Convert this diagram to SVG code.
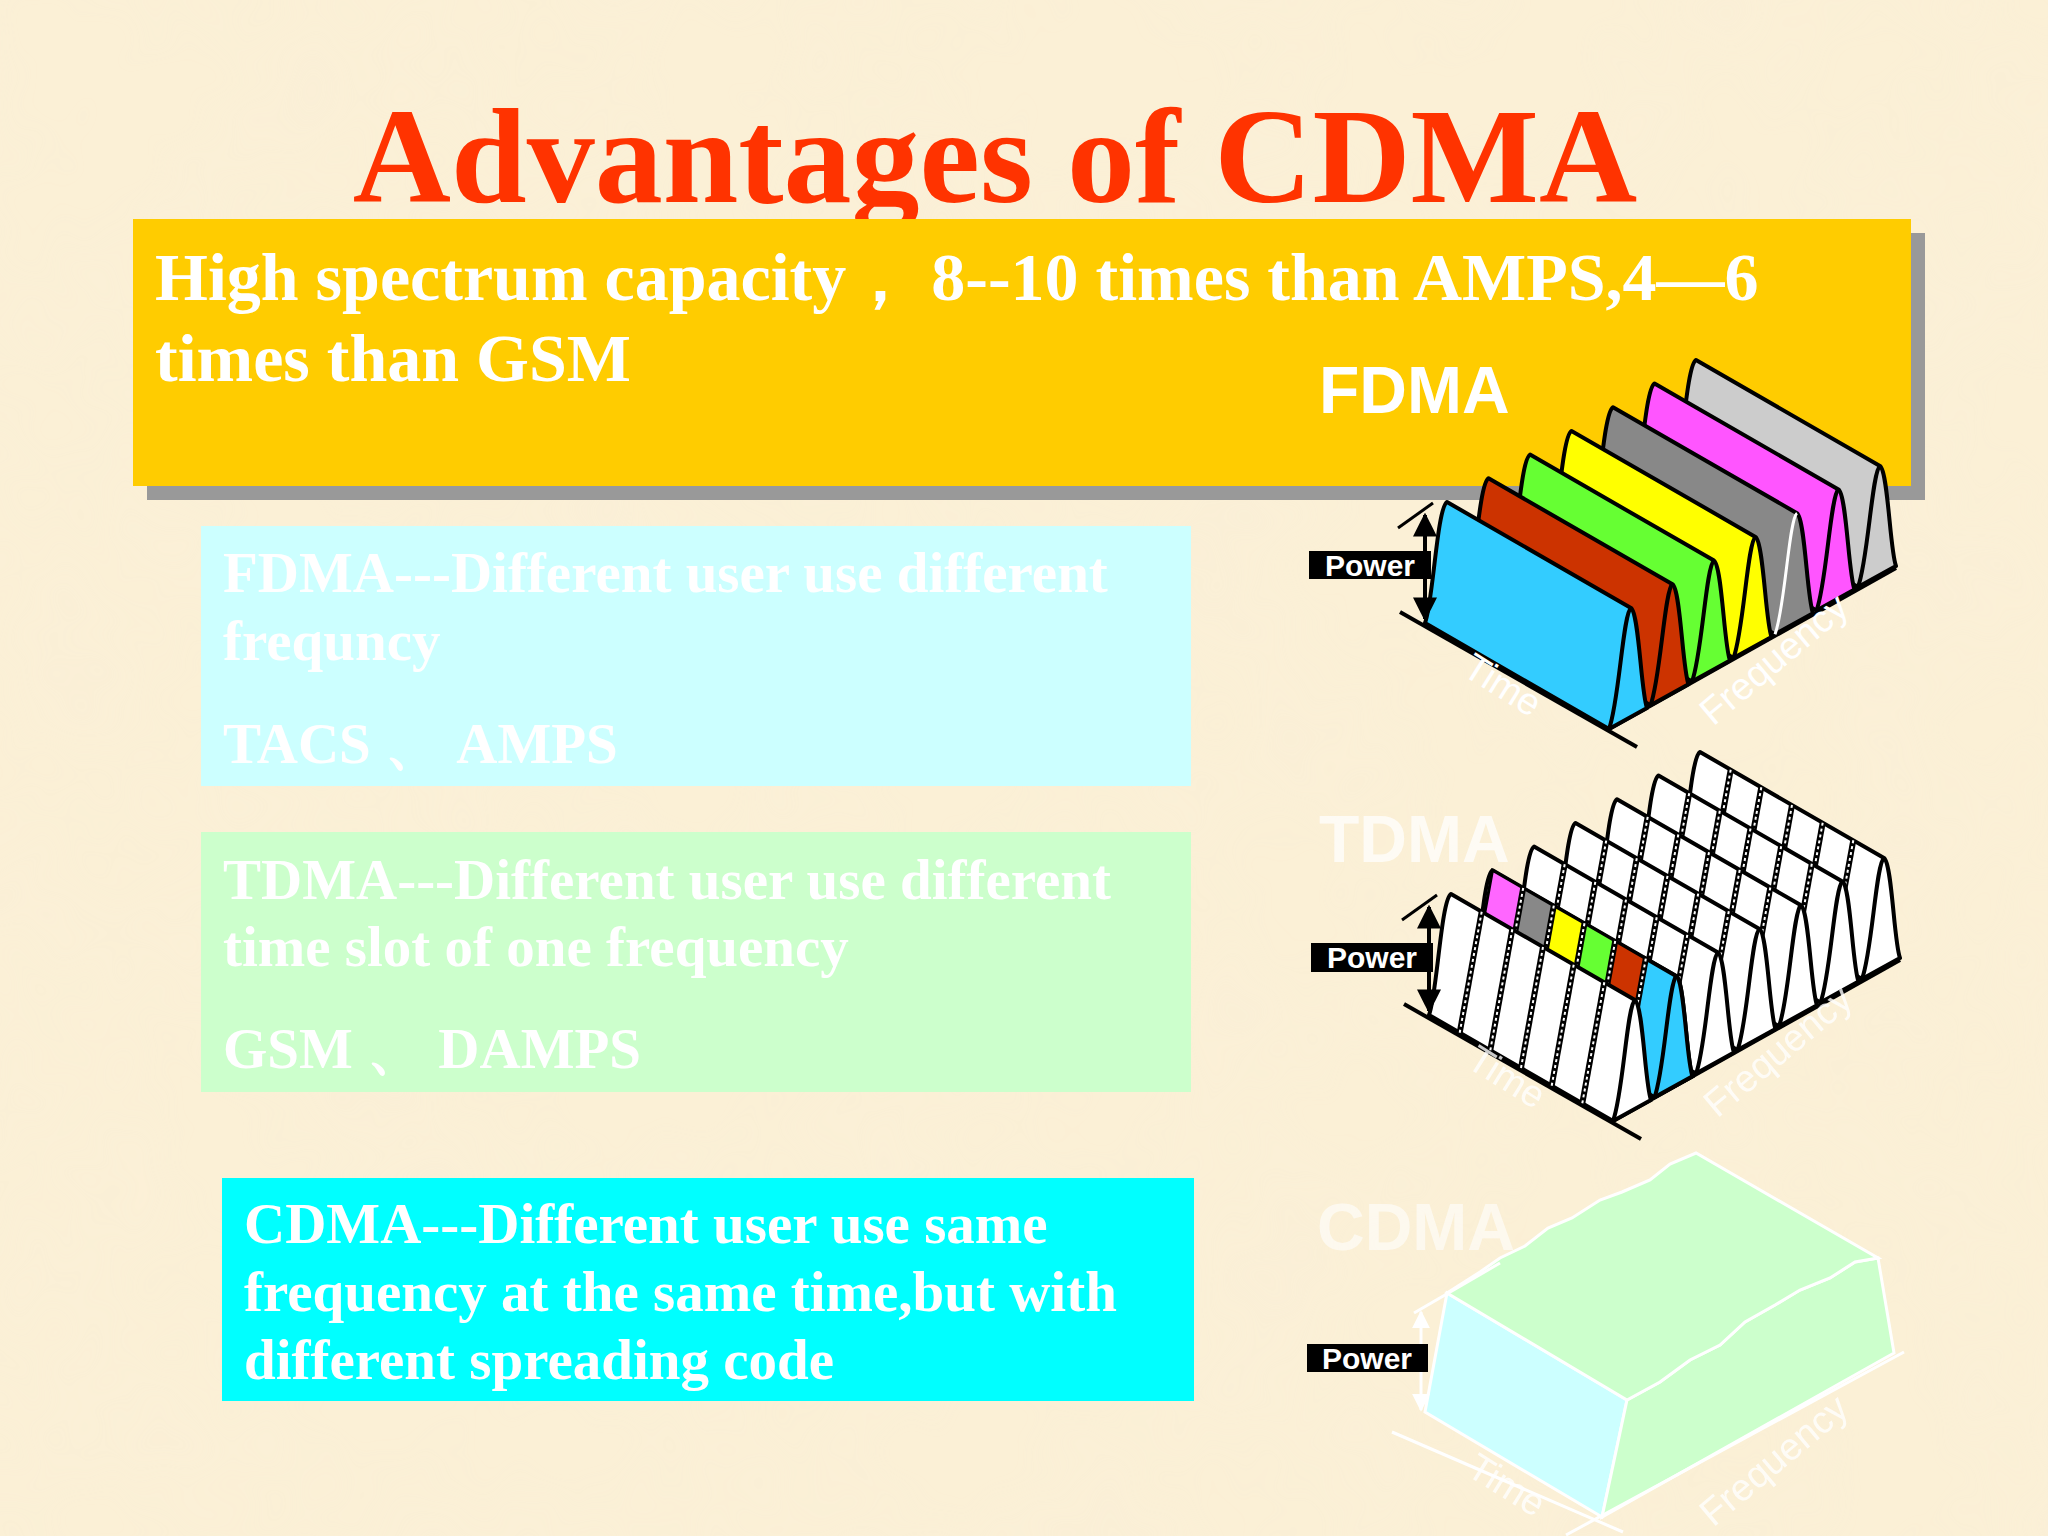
<svg xmlns="http://www.w3.org/2000/svg" xmlns:xlink="http://www.w3.org/1999/xlink" width="2048" height="1536" viewBox="0 0 2048 1536">
<style>
.title{font-family:"Liberation Serif",serif;font-weight:bold;font-size:136px;fill:#ff3300}
.body{font-family:"Liberation Serif",serif;font-weight:bold;font-size:68px;fill:#ffffff}
.sub{font-family:"Liberation Serif",serif;font-weight:bold;font-size:57px;fill:#ffffff}
.big{font-family:"Liberation Sans",sans-serif;font-weight:bold;font-size:66px;fill:#ffffff}
.pw{font-family:"Liberation Sans",sans-serif;font-weight:bold;font-size:30px;fill:#ffffff}
.ax{font-family:"Liberation Sans",sans-serif;font-size:38px;fill:#ffffff}
.edge{stroke:#000;stroke-width:4;stroke-linejoin:round}
.div{stroke:#000;stroke-width:6}
.divw{stroke:#fff;stroke-width:2;stroke-dasharray:3 3}
</style>
<defs>
<filter id="tex" x="0" y="0" width="100%" height="100%">
<feTurbulence type="fractalNoise" baseFrequency="0.006" numOctaves="3" seed="4"/>
<feColorMatrix values="0 0 0 0 0.95  0 0 0 0 0.85  0 0 0 0 0.7  0 0 0 0.9 -0.3"/>
</filter>
<path id="band" d="M0,0 C8,-20 12,-115 22,-121 L206,-15 C214,-10 216,70 222,85 L184,106 Z"/>
<path id="bandEdge" d="M184,106 C194,80 198,-10 206,-15" fill="none"/>
<g id="slots">
<line x1="30.7" y1="17.7" x2="52.7" y2="-103.3" class="div"/><line x1="30.7" y1="17.7" x2="52.7" y2="-103.3" class="divw"/>
<line x1="61.3" y1="35.3" x2="83.3" y2="-85.7" class="div"/><line x1="61.3" y1="35.3" x2="83.3" y2="-85.7" class="divw"/>
<line x1="92" y1="53" x2="114" y2="-68" class="div"/><line x1="92" y1="53" x2="114" y2="-68" class="divw"/>
<line x1="122.7" y1="70.7" x2="144.7" y2="-50.3" class="div"/><line x1="122.7" y1="70.7" x2="144.7" y2="-50.3" class="divw"/>
<line x1="153.3" y1="88.3" x2="175.3" y2="-32.7" class="div"/><line x1="153.3" y1="88.3" x2="175.3" y2="-32.7" class="divw"/>
</g>
<marker id="ah" viewBox="0 0 10 10" refX="9" refY="5" markerWidth="6" markerHeight="6" orient="auto-start-reverse"><path d="M0,0 L10,5 L0,10 Z" fill="#000"/></marker>
<marker id="ahw" viewBox="0 0 10 10" refX="9" refY="5" markerWidth="6" markerHeight="6" orient="auto-start-reverse"><path d="M0,0 L10,5 L0,10 Z" fill="#fff"/></marker>
</defs>
<rect width="2048" height="1536" fill="#fbf0d6"/>
<rect width="2048" height="1536" filter="url(#tex)" opacity="0.5"/>

<g id="title"><text class="title" x="995" y="202" text-anchor="middle">Advantages of CDMA</text></g>

<g id="capacity">
<rect x="147" y="233" width="1778" height="267" fill="#999999"/>
<rect x="133" y="219" width="1778" height="267" fill="#ffcc00"/>
<text class="body" x="155" y="300">High spectrum capacity，  8--10 times than AMPS,4—6</text>
<text class="body" x="155" y="381">times than GSM</text>
</g>

<g id="fdma-box">
<rect x="201" y="526" width="990" height="260" fill="#ccffff"/>
<text class="sub" x="223" y="592">FDMA---Different user use different</text>
<text class="sub" x="223" y="660">frequncy</text>
<text class="sub" x="223" y="763">TACS 、 AMPS</text>
</g>
<g id="tdma-box">
<rect x="201" y="832" width="990" height="260" fill="#ccffcc"/>
<text class="sub" x="223" y="899">TDMA---Different user use different</text>
<text class="sub" x="223" y="966">time slot of one frequency</text>
<text class="sub" x="223" y="1068">GSM 、 DAMPS</text>
</g>
<g id="cdma-box">
<rect x="222" y="1178" width="972" height="223" fill="#00ffff"/>
<text class="sub" x="244" y="1243">CDMA---Different user use same</text>
<text class="sub" x="244" y="1311">frequency at the same time,but with</text>
<text class="sub" x="244" y="1379">different spreading code</text>
</g>

<g id="fdma-chart">
<text class="big" x="1319" y="413">FDMA</text>
<g transform="translate(1425,623)">
<line x1="-25" y1="-11" x2="212" y2="124" stroke="#000" stroke-width="4"/>
<line x1="184" y1="106" x2="471" y2="-55" stroke="#000" stroke-width="4"/>
<use xlink:href="#band" transform="translate(249,-142)" fill="#cccccc" class="edge"/><use xlink:href="#bandEdge" transform="translate(249,-142)" class="edge"/>
<use xlink:href="#band" transform="translate(207.5,-118.5)" fill="#ff55ff" class="edge"/><use xlink:href="#bandEdge" transform="translate(207.5,-118.5)" class="edge"/>
<use xlink:href="#band" transform="translate(166,-94.8)" fill="#888888" class="edge"/><use xlink:href="#bandEdge" transform="translate(166,-94.8)" stroke="#fff" stroke-width="3"/>
<use xlink:href="#band" transform="translate(124.5,-71.1)" fill="#ffff00" class="edge"/><use xlink:href="#bandEdge" transform="translate(124.5,-71.1)" class="edge"/>
<use xlink:href="#band" transform="translate(83,-47.4)" fill="#66ff33" class="edge"/><use xlink:href="#bandEdge" transform="translate(83,-47.4)" class="edge"/>
<use xlink:href="#band" transform="translate(41.5,-23.7)" fill="#cc3300" class="edge"/><use xlink:href="#bandEdge" transform="translate(41.5,-23.7)" class="edge"/>
<use xlink:href="#band" fill="#33ccff" class="edge"/><use xlink:href="#bandEdge" class="edge"/>
<line x1="-27" y1="-95" x2="8" y2="-120" stroke="#000" stroke-width="3"/>
<line x1="0" y1="-108" x2="0" y2="-4" stroke="#000" stroke-width="4" marker-start="url(#ah)" marker-end="url(#ah)"/>
<rect x="-116" y="-72" width="122" height="28" fill="#000"/>
<text class="pw" x="-55" y="-47" text-anchor="middle">Power</text>
<text class="ax" transform="translate(71,73) rotate(32)" text-anchor="middle">Time</text>
<text class="ax" transform="translate(357,46) rotate(-40)" text-anchor="middle">Frequency</text>
</g>
</g>

<g id="tdma-chart">
<text class="big" x="1319" y="862" opacity="0.75">TDMA</text>
<g transform="translate(1429,1015)">
<line x1="-25" y1="-11" x2="212" y2="124" stroke="#000" stroke-width="4"/>
<line x1="184" y1="106" x2="471" y2="-55" stroke="#000" stroke-width="4"/>
<g transform="translate(249,-142)"><use xlink:href="#band" fill="#fff" class="edge"/><use xlink:href="#bandEdge" class="edge"/><use xlink:href="#slots"/></g>
<g transform="translate(207.5,-118.5)"><use xlink:href="#band" fill="#fff" class="edge"/><use xlink:href="#bandEdge" class="edge"/><use xlink:href="#slots"/></g>
<g transform="translate(166,-94.8)"><use xlink:href="#band" fill="#fff" class="edge"/><use xlink:href="#bandEdge" class="edge"/><use xlink:href="#slots"/></g>
<g transform="translate(124.5,-71.1)"><use xlink:href="#band" fill="#fff" class="edge"/><use xlink:href="#bandEdge" class="edge"/><use xlink:href="#slots"/></g>
<g transform="translate(83,-47.4)"><use xlink:href="#band" fill="#fff" class="edge"/><use xlink:href="#bandEdge" class="edge"/><use xlink:href="#slots"/></g>
<g transform="translate(41.5,-23.7)">
<use xlink:href="#band" fill="#fff" class="edge"/>
<polygon points="22,-121 52.7,-103.3 39.5,-30.7 8.8,-48.4" fill="#ff66ff" stroke="#000" stroke-width="3"/>
<polygon points="52.7,-103.3 83.3,-85.7 70.1,-13.1 39.5,-30.7" fill="#888888" stroke="#000" stroke-width="3"/>
<polygon points="83.3,-85.7 114,-68 100.8,4.6 70.1,-13.1" fill="#ffff00" stroke="#000" stroke-width="3"/>
<polygon points="114,-68 144.7,-50.3 131.5,22.3 100.8,4.6" fill="#66ff33" stroke="#000" stroke-width="3"/>
<polygon points="144.7,-50.3 175.3,-32.7 162.1,39.9 131.5,22.3" fill="#cc3300" stroke="#000" stroke-width="3"/>
<path d="M153.3,88.3 L175.3,-32.7 L206,-15 C214,-10 216,70 222,85 L184,106 Z" fill="#33ccff" stroke="#000" stroke-width="4"/>
<use xlink:href="#bandEdge" class="edge"/><use xlink:href="#slots"/>
</g>
<g><use xlink:href="#band" fill="#fff" class="edge"/><use xlink:href="#bandEdge" class="edge"/><use xlink:href="#slots"/></g>
<line x1="-27" y1="-95" x2="8" y2="-120" stroke="#000" stroke-width="3"/>
<line x1="0" y1="-108" x2="0" y2="-4" stroke="#000" stroke-width="4" marker-start="url(#ah)" marker-end="url(#ah)"/>
<rect x="-118" y="-72" width="122" height="29" fill="#000"/>
<text class="pw" x="-57" y="-47" text-anchor="middle">Power</text>
<text class="ax" transform="translate(71,73) rotate(32)" text-anchor="middle" opacity="0.8">Time</text>
<text class="ax" transform="translate(357,46) rotate(-40)" text-anchor="middle" opacity="0.8">Frequency</text>
</g>
</g>

<g id="cdma-chart">
<text class="big" x="1317" y="1250" opacity="0.6">CDMA</text>
<polygon points="1425,1412 1447,1293 1627,1400 1602,1517" fill="#ccffff" stroke="#fff" stroke-width="3"/>
<polygon points="1627,1400 1660,1382 1690,1360 1720,1345 1745,1322 1775,1305 1800,1290 1830,1278 1855,1262 1878,1258 1894,1353 1602,1517" fill="#ccffcc" stroke="#fff" stroke-width="3"/>
<polygon points="1447,1293 1480,1272 1500,1258 1525,1246 1548,1228 1572,1218 1600,1200 1622,1192 1650,1180 1670,1164 1696,1153 1878,1258 1855,1262 1830,1278 1800,1290 1775,1305 1745,1322 1720,1345 1690,1360 1660,1382 1627,1400" fill="#ccffcc" stroke="#fff" stroke-width="3"/>
<line x1="1392" y1="1432" x2="1623" y2="1532" stroke="#fff" stroke-width="3"/>
<line x1="1566" y1="1535" x2="1904" y2="1352" stroke="#fff" stroke-width="3"/>
<line x1="1414" y1="1313" x2="1500" y2="1263" stroke="#fff" stroke-width="3"/>
<line x1="1421" y1="1312" x2="1421" y2="1410" stroke="#fff" stroke-width="3" marker-start="url(#ahw)" marker-end="url(#ahw)"/>
<rect x="1307" y="1344" width="121" height="28" fill="#000"/>
<text class="pw" x="1367" y="1369" text-anchor="middle">Power</text>
<text class="ax" transform="translate(1500,1496) rotate(32)" text-anchor="middle" opacity="0.8">Time</text>
<text class="ax" transform="translate(1782,1470) rotate(-40)" text-anchor="middle" opacity="0.8">Frequency</text>
</g>
</svg>
